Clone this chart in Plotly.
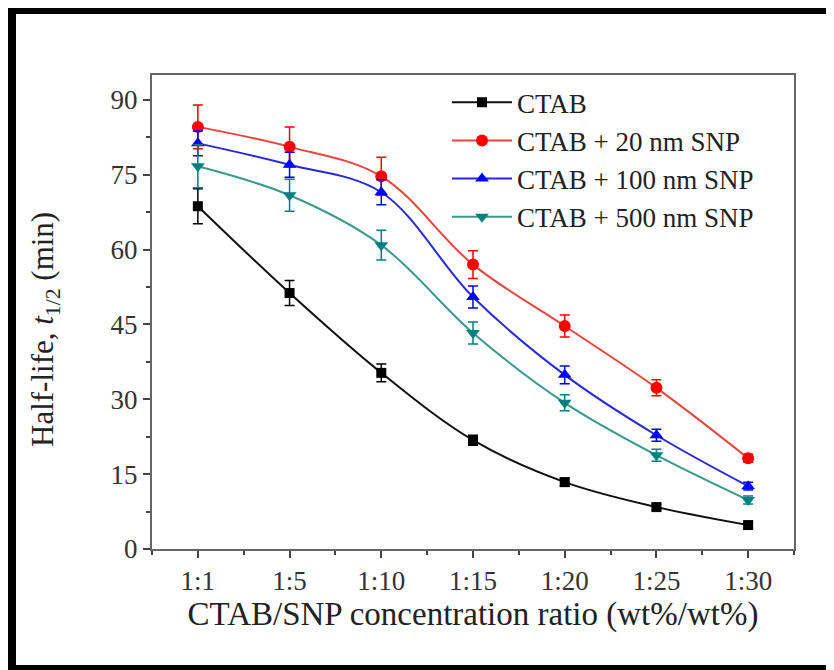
import plotly.graph_objects as go

ratios = ['1:1', '1:5', '1:10', '1:15', '1:20', '1:25', '1:30']
xpos = list(range(len(ratios)))

ctab = [68.7, 51.3, 35.3, 21.8, 13.4, 8.4, 4.8]
ctab_err = [3.5, 2.5, 1.8, 1.0, 0.8, 0.6, 0.6]
snp20 = [84.6, 80.6, 74.7, 57.0, 44.7, 32.3, 18.2]
snp20_err = [4.4, 4.0, 3.8, 2.8, 2.2, 1.6, 0.8]
snp100 = [81.3, 77.0, 71.5, 50.5, 34.9, 22.8, 12.6]
snp100_err = [2.5, 2.5, 2.5, 2.2, 1.8, 1.2, 0.8]
snp500 = [76.7, 70.9, 60.9, 43.3, 29.3, 18.8, 9.8]
snp500_err = [4.3, 3.2, 3.0, 2.2, 1.6, 1.2, 0.8]

series = [
    ('CTAB', ctab, ctab_err, '#000000', '#111111', 'square', 10),
    ('CTAB + 20 nm SNP', snp20, snp20_err, '#ff0000', '#e8463c', 'circle', 12),
    ('CTAB + 100 nm SNP', snp100, snp100_err, '#0000ff', '#2828d8', 'triangle-up', 12),
    ('CTAB + 500 nm SNP', snp500, snp500_err, '#007f7f', '#3a9a8a', 'triangle-down', 12),
]

fig = go.Figure()
for name, y, err, mcol, lcol, sym, sz in series:
    fig.add_trace(go.Scatter(
        x=xpos, y=y, name=name, mode='lines+markers',
        line=dict(color=lcol, width=2, shape='spline', smoothing=1.0),
        marker=dict(color=mcol, symbol=sym, size=sz),
        error_y=dict(type='data', array=err, visible=True, color=mcol,
                     thickness=1.5, width=5),
    ))

# page has an 8px body margin, so the figure is 8px smaller than the window
W, H = 826, 662
L, R, T, B = 144, 40, 67, 121
pw, ph = W - L - R, H - T - B

def px(x):
    return (x - L) / pw
def py(y):
    return (H - B - y) / ph

serif = 'Liberation Serif'
fig.update_layout(
    width=W, height=H,
    margin=dict(l=L, r=R, t=T, b=B),
    paper_bgcolor='white', plot_bgcolor='white',
    font=dict(family=serif, color='#222222', size=27),
    showlegend=True,
    legend=dict(x=px(439), y=0.993, xanchor='left', yanchor='top',
                bgcolor='rgba(0,0,0,0)',
                font=dict(size=27, family=serif, color='#222222'),
                tracegroupgap=0, itemwidth=60),
    xaxis=dict(
        range=[-0.5, 6.5], tickmode='array', tickvals=xpos, ticktext=ratios,
        showgrid=False, zeroline=False,
        showline=True, linecolor='#666666', linewidth=2, mirror=True,
        ticks='outside', ticklen=7, tickwidth=1.5, tickcolor='#444444',
        minor=dict(tickmode='linear', tick0=-0.5, dtick=1, ticks='outside',
                   ticklen=4, tickwidth=1.5, tickcolor='#444444'),
        tickfont=dict(size=27, family=serif, color='#333333'),
        title=dict(text='CTAB/SNP concentration ratio (wt%/wt%)',
                   font=dict(size=33, family=serif, color='#222222'), standoff=6),
    ),
    yaxis=dict(
        range=[0, 95], tickmode='linear', tick0=0, dtick=15,
        showgrid=False, zeroline=False,
        showline=True, linecolor='#666666', linewidth=2, mirror=True,
        ticks='outside', ticklen=7, tickwidth=1.5, tickcolor='#444444',
        minor=dict(tickmode='linear', tick0=7.5, dtick=15, ticks='outside',
                   ticklen=4, tickwidth=1.5, tickcolor='#444444'),
        tickfont=dict(size=27, family=serif, color='#333333'),
    ),
)

# y axis title as an annotation so its centre can be placed
fig.add_annotation(text='Half-life, <i>t</i><sub>1/2</sub> (min)',
                   xref='paper', yref='paper', x=px(37), y=py(322),
                   xanchor='center', yanchor='middle', textangle=-90,
                   showarrow=False,
                   font=dict(size=31, family=serif, color='#222222'))

# outer black frame of the picture (top, left, bottom edges), figure pixels
frame = [
    (px(0), py(6), px(W), py(-5)),
    (px(0), py(H + 5), px(8), py(-5)),
    (px(0), py(H + 5), px(W), py(657)),
]
for x0, y0, x1, y1 in frame:
    fig.add_shape(type='rect', xref='paper', yref='paper',
                  x0=x0, y0=y0, x1=x1, y1=y1,
                  fillcolor='black', line=dict(width=0), layer='above')

fig.write_html('out.html')
